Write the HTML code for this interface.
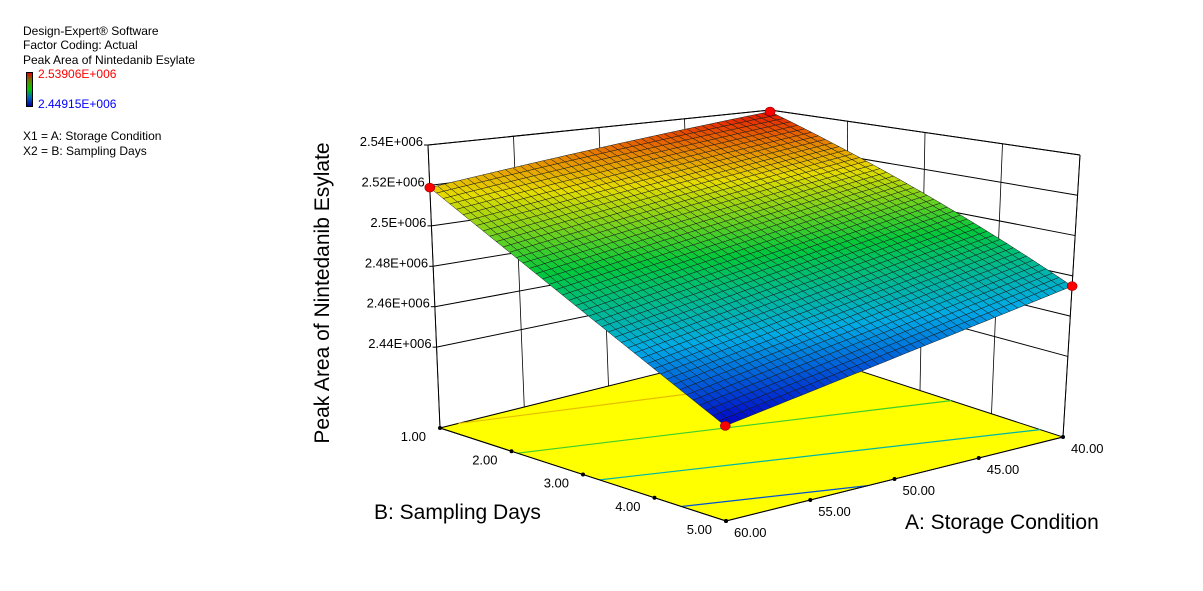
<!DOCTYPE html>
<html><head><meta charset="utf-8"><style>
body{margin:0;background:#fff;width:1203px;height:591px;overflow:hidden;font-family:"Liberation Sans",Arial,sans-serif}
.t{position:absolute;font-size:12px;color:#000;line-height:13px;white-space:nowrap}
</style></head><body>
<div>
<div class="t" style="left:23px;top:25px">Design-Expert® Software</div>
<div class="t" style="left:23px;top:39px">Factor Coding: Actual</div>
<div class="t" style="left:23px;top:54px">Peak Area of Nintedanib Esylate</div>
<div style="position:absolute;left:26px;top:72px;width:5px;height:33px;border:1px solid #000;background:linear-gradient(#e00000,#5a8a00,#00c800,#0060c0,#0000a0)"></div>
<div class="t" style="left:38px;top:68px;color:#f00">2.53906E+006</div>
<div class="t" style="left:38px;top:98px;color:#00f">2.44915E+006</div>
<div class="t" style="left:23px;top:130px">X1 = A: Storage Condition</div>
<div class="t" style="left:23px;top:145px">X2 = B: Sampling Days</div>
</div>
<svg id="c" width="1203" height="591" style="position:absolute;left:0;top:0" font-family="Liberation Sans, Arial, sans-serif"></svg>
<script>
const aTicks=[40,45,50,55,60];
const bTicks=[1,2,3,4,5];
const zTicks=[2.44,2.46,2.48,2.50,2.52,2.54];
const zTickLabels=["2.44E+006","2.46E+006","2.48E+006","2.5E+006","2.52E+006","2.54E+006"];
const contourLevels=[2.46,2.48,2.50,2.52];
// response at design corners (A,B): [A60B1, A60B5, A40B5, A40B1] in 1E6
const cornerA=[60,60,40,40];
const cornerB=[1,5,5,1];
const cornerZ=[2.5189,2.44915,2.4749,2.53906];
const zMin=2.40, zMax=2.54;
const FL={L:[440,428],F:[726,521],R:[1063,437],K:[777,344]};
const TP={L:[428,145],F:[724,250],R:[1080,155],K:[770,110]};
function bil(P,u,v){
  const x=(1-u)*(1-v)*P.L[0]+(1-u)*v*P.F[0]+u*v*P.R[0]+u*(1-v)*P.K[0];
  const y=(1-u)*(1-v)*P.L[1]+(1-u)*v*P.F[1]+u*v*P.R[1]+u*(1-v)*P.K[1];
  return [x,y];}
function proj(A,B,z){const u=(60-A)/20,v=(B-1)/4;const f=bil(FL,u,v),t=bil(TP,u,v);const w=(z-zMin)/(zMax-zMin);return [f[0]+(t[0]-f[0])*w,f[1]+(t[1]-f[1])*w];}
function resp(A,B){const u=(60-A)/20,v=(B-1)/4;return (1-u)*(1-v)*cornerZ[0]+(1-u)*v*cornerZ[1]+u*v*cornerZ[2]+u*(1-v)*cornerZ[3];}
const lo=Math.min(...cornerZ),hi=Math.max(...cornerZ);
function col(z){let t=(z-lo)/(hi-lo);t=Math.max(0,Math.min(1,t));
 const st=[[0,[0,0,200]],[0.25,[0,170,230]],[0.5,[0,200,60]],[0.75,[230,220,0]],[1,[230,20,0]]];
 for(let i=1;i<st.length;i++){if(t<=st[i][0]){const a=st[i-1],b=st[i];const k=(t-a[0])/(b[0]-a[0]);return 'rgb('+a[1].map((c,j)=>Math.round(c+(b[1][j]-c)*k)).join(',')+')';}}return 'rgb(230,20,0)';}
const svg=document.getElementById('c');const NS='http://www.w3.org/2000/svg';
function mk(t,at,name){const e=document.createElementNS(NS,t);for(const k in at)e.setAttribute(k,at[k]);
 
 
 svg.appendChild(e);return e;}
function ln(p,q,name,c,w){return mk('line',{x1:p[0],y1:p[1],x2:q[0],y2:q[1],stroke:c||'#000','stroke-width':w||1},name);}
function txt(x,y,s,name,sz,anc,extra){const e=mk('text',Object.assign({x:x,y:y,'font-size':sz||13,'text-anchor':anc||'start'},extra||{}),name);e.textContent=s;return e;}
ln(proj(60,1,zMin),proj(60,1,zMax),'z-axis-line');
ln(proj(40,1,zMin),proj(40,1,zMax),'back-corner-line');
ln(proj(40,5,zMin),proj(40,5,zMax),'right-corner-line');
ln(proj(60,1,zMax),proj(40,1,zMax),'back-top-edge');
ln(proj(40,1,zMax),proj(40,5,zMax),'right-top-edge');
zTicks.forEach((z,i)=>{ln(proj(60,1,z),proj(40,1,z),'back-grid-z');ln(proj(40,1,z),proj(40,5,z),'right-grid-z');
 const p=proj(60,1,z);ln([p[0]-4,p[1]],p,'z-tick');txt(p[0]-5,p[1]+1,zTickLabels[i],'z-tick-label',13,'end');});
aTicks.forEach(a=>ln(proj(a,1,zMin),proj(a,1,zMax),'back-grid-a','#000',0.8));
bTicks.forEach(b=>ln(proj(40,b,zMin),proj(40,b,zMax),'right-grid-b','#000',0.8));
const fl=[proj(60,1,zMin),proj(60,5,zMin),proj(40,5,zMin),proj(40,1,zMin)];
mk('polygon',{points:fl.map(p=>p.join(',')).join(' '),fill:'#ffff00',stroke:'#000','stroke-width':1},'floor-contour-plane');
contourLevels.forEach(lv=>{const pts=[];
 const edges=[[60,1,60,5],[60,5,40,5],[40,5,40,1],[40,1,60,1]];
 edges.forEach(e=>{const z1=resp(e[0],e[1]),z2=resp(e[2],e[3]);if((z1-lv)*(z2-lv)<=0&&z1!==z2){const k=(lv-z1)/(z2-z1);pts.push(proj(e[0]+(e[2]-e[0])*k,e[1]+(e[3]-e[1])*k,zMin));}});
 if(pts.length>=2)ln(pts[0],pts[1],'floor-contour',col(lv),1.2);});
bTicks.forEach(b=>{const p=proj(60,b,zMin);mk('circle',{cx:p[0],cy:p[1],r:2,fill:'#000'},'b-tick');});
aTicks.forEach(a=>{const p=proj(a,5,zMin);mk('circle',{cx:p[0],cy:p[1],r:2,fill:'#000'},'a-tick');});
bTicks.forEach((b,i)=>txt(proj(60,b,zMin)[0]-14,proj(60,b,zMin)[1]+13,b.toFixed(2),'b-tick-label',13,'end'));
aTicks.forEach((a,i)=>txt(proj(a,5,zMin)[0]+8,proj(a,5,zMin)[1]+16,a.toFixed(2),'a-tick-label',13,'start'));
const N=45,quads=[];
for(let i=0;i<N;i++)for(let j=0;j<N;j++){const A0=60-20*i/N,A1=60-20*(i+1)/N,B0=1+4*j/N,B1=1+4*(j+1)/N;
 const ps=[[A0,B0],[A1,B0],[A1,B1],[A0,B1]];const zs=ps.map(p=>resp(p[0],p[1]));
 const sc=ps.map((p,k)=>proj(p[0],p[1],zs[k]));const d=sc.reduce((s,p)=>s+p[1],0);
 quads.push({sc:sc,z:(zs[0]+zs[1]+zs[2]+zs[3])/4,d:d});}
quads.sort((a,b)=>a.d-b.d);
quads.forEach(q=>mk('polygon',{points:q.sc.map(p=>p[0].toFixed(1)+','+p[1].toFixed(1)).join(' '),fill:col(q.z),stroke:'#1a1a1a','stroke-width':0.5},'surface-cell'));
ln(fl[0],fl[1],'b-axis-line');ln(fl[1],fl[2],'a-axis-line');
for(let k=0;k<cornerZ.length;k++){const p=proj(cornerA[k],cornerB[k],cornerZ[k]);mk('ellipse',{cx:p[0],cy:p[1],rx:5,ry:4.5,fill:'#f00',stroke:'#800','stroke-width':0.6},'design-point');}
txt(329,293,'Peak Area of Nintedanib Esylate','z-axis-title',21,'middle',{transform:'rotate(-90 329 293)'});
txt(374,519,'B: Sampling Days','b-axis-title',21,'start');
txt(905,529,'A: Storage Condition','a-axis-title',21,'start');
</script>
</body></html>
